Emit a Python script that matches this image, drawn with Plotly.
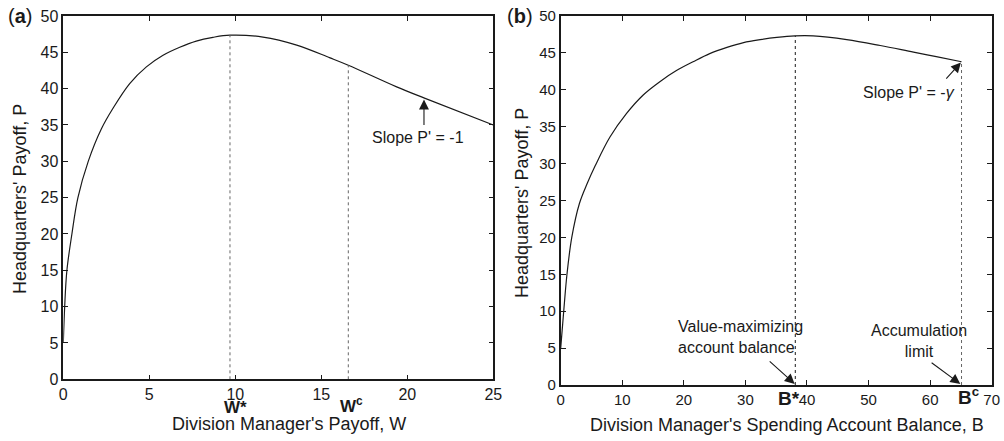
import plotly.graph_objects as go

# ---- data ----
w_vals = [0, 0.08, 0.21, 0.5, 0.85, 1.45, 2.21, 2.89, 3.86, 4.83, 5.8, 6.77, 7.73, 8.7, 9.69, 11.61, 13.57, 15.51, 16.57, 19.38, 21.0, 25.0]
p_a_vals = [5, 10, 15, 20, 25, 30, 34.45, 37.3, 40.7, 43.0, 44.6, 45.7, 46.55, 47.06, 47.36, 47.1, 46.0, 44.24, 43.23, 40.25, 38.7, 35.0]

b_vals = [0, 0.49, 1.02, 1.8, 3.04, 4.3, 5.6, 8.0, 10.7, 13.4, 16.1, 18.8, 21.5, 24.2, 27.0, 29.7, 32.4, 35.1, 38.05, 41.0, 46.45, 51.9, 57.3, 61.0, 65.1]
p_b_vals = [5, 10, 15, 20, 24.6, 27.3, 29.7, 33.6, 36.8, 39.3, 41.1, 42.6, 43.8, 44.9, 45.75, 46.4, 46.8, 47.1, 47.3, 47.3, 46.8, 46.0, 45.1, 44.5, 43.8]

w_star, p_w_star = 9.69, 47.36
w_c, p_w_c = 16.57, 43.23
b_star, p_b_star = 38.1, 47.3
b_c, p_b_c = 65.1, 43.8

xa_ticks = [0, 5, 10, 15, 20, 25]
xb_ticks = [0, 10, 20, 30, 40, 50, 60, 70]
y_ticks = [0, 5, 10, 15, 20, 25, 30, 35, 40, 45, 50]

W, H = 1004, 441
FONT = "Liberation Sans, Arial, Helvetica, sans-serif"
INK = "#1a1a1a"
DOT = "#666666"

def px(x):
    return x / W

def py(y):
    return 1 - y / H

fig = go.Figure()

fig.add_trace(go.Scatter(x=w_vals, y=p_a_vals, mode="lines", line=dict(color=INK, width=1.2, shape="spline", smoothing=1.0),
                         xaxis="x", yaxis="y", showlegend=False, hoverinfo="skip"))
fig.add_trace(go.Scatter(x=[w_star, w_star], y=[0, p_w_star], mode="lines", line=dict(color=DOT, width=1, dash="dot"),
                         xaxis="x", yaxis="y", showlegend=False, hoverinfo="skip"))
fig.add_trace(go.Scatter(x=[w_c, w_c], y=[0, p_w_c], mode="lines", line=dict(color=DOT, width=1, dash="dot"),
                         xaxis="x", yaxis="y", showlegend=False, hoverinfo="skip"))

fig.add_trace(go.Scatter(x=b_vals, y=p_b_vals, mode="lines", line=dict(color=INK, width=1.2, shape="spline", smoothing=1.0),
                         xaxis="x2", yaxis="y2", showlegend=False, hoverinfo="skip"))
fig.add_trace(go.Scatter(x=[b_star, b_star], y=[0, p_b_star], mode="lines", line=dict(color=INK, width=1, dash="dot"),
                         xaxis="x2", yaxis="y2", showlegend=False, hoverinfo="skip"))
fig.add_trace(go.Scatter(x=[b_c, b_c], y=[0, p_b_c], mode="lines", line=dict(color=DOT, width=1, dash="dot"),
                         xaxis="x2", yaxis="y2", showlegend=False, hoverinfo="skip"))

axis_common = dict(showgrid=False, zeroline=False, showline=True, linewidth=1.6, linecolor=INK, automargin=False,
                   mirror="allticks", ticks="inside", ticklen=5, tickwidth=1, tickcolor=INK)

fig.update_layout(
    width=W, height=H,
    margin=dict(l=0, r=0, t=0, b=0),
    paper_bgcolor="white", plot_bgcolor="white",
    font=dict(family=FONT, color=INK),
    xaxis=dict(domain=[px(63.3), px(493.3)], range=[0, 25], tickvals=xa_ticks, anchor="y",
               tickfont=dict(size=16, family=FONT, color=INK), **axis_common),
    yaxis=dict(domain=[py(379.3), py(16)], range=[0, 50], tickvals=y_ticks, anchor="x",
               tickfont=dict(size=16, family=FONT, color=INK), **axis_common),
    xaxis2=dict(domain=[px(560.7), px(991.7)], range=[0, 70], tickvals=xb_ticks, anchor="y2",
                tickfont=dict(size=15, family=FONT, color=INK), **axis_common),
    yaxis2=dict(domain=[py(385), py(16)], range=[0, 50], tickvals=y_ticks, anchor="x2",
                tickfont=dict(size=15, family=FONT, color=INK), **axis_common),
)

ann = []

def ptext(text, x, y, size, **kw):
    d = dict(text=text, x=px(x), y=py(y), xref="paper", yref="paper", showarrow=False,
             font=dict(size=size, family=FONT, color=INK), xanchor="center", yanchor="middle")
    d.update(kw)
    ann.append(d)

ptext("(<b>a</b>)", 20, 16, 20)
ptext("(<b>b</b>)", 520, 16, 20)
ptext("Headquarters' Payoff, P", 20, 199, 18, textangle=-90)
ptext("Headquarters' Payoff, P", 522, 203, 18, textangle=-90)
ptext("Division Manager's Payoff, W", 289, 424, 18)
ptext("Division Manager's Spending Account Balance, B", 787, 425, 18)
ptext("<b>W*</b>", 235, 407, 17)
ptext("<b>W<sup>c</sup></b>", 351, 405, 17)
ptext("<b>B*</b>", 789, 398, 19)
ptext("<b>B<sup>c</sup></b>", 968, 396, 19)

def dtext(text, x, y, xr, yr, size, **kw):
    d = dict(text=text, x=x, y=y, xref=xr, yref=yr, showarrow=False,
             font=dict(size=size, family=FONT, color=INK), xanchor="center", yanchor="middle")
    d.update(kw)
    ann.append(d)

def arrow(x0, y0, x1, y1, xr, yr):
    ann.append(dict(text="", x=x1, y=y1, ax=x0, ay=y0, xref=xr, yref=yr, axref=xr, ayref=yr,
                    showarrow=True, arrowhead=2, arrowsize=1.8, arrowwidth=1.1, arrowcolor=INK))

dtext("Slope P' = -1", 20.64, 33.3, "x", "y", 16)
arrow(20.97, 34.8, 20.97, 38.5, "x", "y")

dtext("Slope P' = -<i>γ</i>", 64.3, 39.7, "x2", "y2", 16, xanchor="right")
arrow(62.4, 41.3, 65.0, 43.7, "x2", "y2")

dtext("Value-maximizing<br>account balance", 18.68, 6.44, "x2", "y2", 16, xanchor="left", align="left")
arrow(33.7, 3.39, 38.0, 0.15, "x2", "y2")

dtext("Accumulation<br>limit", 58.2, 6.03, "x2", "y2", 16, align="center")
arrow(60.0, 3.16, 64.9, 0.15, "x2", "y2")

fig.update_layout(annotations=ann)

fig.write_html("out.html", config={"displayModeBar": False},
               post_script="document.body.style.margin='0';document.body.style.overflow='hidden';")
